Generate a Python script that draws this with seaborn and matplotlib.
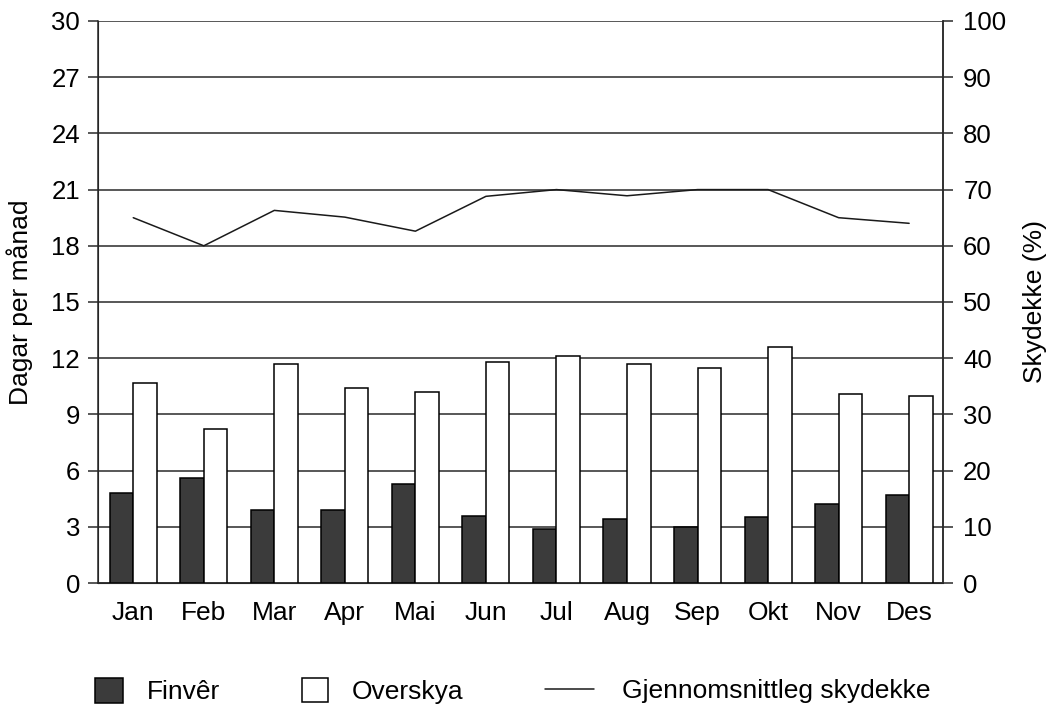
import numpy as np
import pandas as pd
import matplotlib
matplotlib.use("Agg")
import matplotlib.pyplot as plt
import seaborn as sns
from matplotlib.patches import Patch
from matplotlib.lines import Line2D

months = ["Jan", "Feb", "Mar", "Apr", "Mai", "Jun", "Jul", "Aug", "Sep", "Okt", "Nov", "Des"]
finver = [4.8, 5.6, 3.9, 3.9, 5.3, 3.6, 2.9, 3.4, 3.0, 3.5, 4.2, 4.7]
overskya = [10.7, 8.2, 11.7, 10.4, 10.2, 11.8, 12.1, 11.7, 11.5, 12.6, 10.1, 10.0]
skydekke = [65.0, 60.0, 66.3, 65.1, 62.6, 68.8, 70.0, 68.9, 70.0, 70.0, 65.0, 64.0]
left_ticks = [0, 3, 6, 9, 12, 15, 18, 21, 24, 27, 30]
right_ticks = [0, 10, 20, 30, 40, 50, 60, 70, 80, 90, 100]

sns.set_style("white")
plt.rcParams["font.family"] = ["Liberation Sans", "DejaVu Sans"]
plt.rcParams["text.color"] = "black"
plt.rcParams["axes.labelcolor"] = "black"
plt.rcParams["xtick.color"] = "black"
plt.rcParams["ytick.color"] = "black"

df = pd.DataFrame({
    "Månad": months * 2,
    "Dagar": finver + overskya,
    "Type": ["Finvêr"] * 12 + ["Overskya"] * 12,
})

DARK = "#3b3b3b"
LW = 1.1

fig = plt.figure(figsize=(10.48, 7.09), dpi=100)
ax = fig.add_axes([0.0935, 0.1777, 0.8063, 0.7927])

sns.barplot(data=df, x="Månad", y="Dagar", hue="Type", order=months,
            hue_order=["Finvêr", "Overskya"],
            palette={"Finvêr": DARK, "Overskya": "white"},
            width=0.667, gap=0, edgecolor="black", linewidth=LW,
            legend=False, ax=ax, zorder=3)

ax.set_ylim(0, 30)
ax.set_yticks(left_ticks)
ax.set_yticklabels([str(t) for t in left_ticks])
ax.set_axisbelow(True)
ax.yaxis.grid(True, color="#2a2a2a", linewidth=LW, zorder=0)
ax.xaxis.grid(False)
ax.tick_params(axis="y", direction="out", length=7.5, width=LW, color="#2a2a2a",
               labelsize=18.5, pad=5.5, left=True)
ax.tick_params(axis="x", length=0, labelsize=19, pad=13)
ax.set_xlabel("")
ax.set_ylabel("Dagar per månad", fontsize=19)
ax.yaxis.set_label_coords(-0.077, 0.5)
for s in ["left", "right", "bottom"]:
    ax.spines[s].set_visible(True)
    ax.spines[s].set_color("#2a2a2a")
    ax.spines[s].set_linewidth(LW)
ax.spines["top"].set_visible(False)

ax2 = ax.twinx()
sns.lineplot(x=np.arange(len(months)), y=skydekke, ax=ax2, color="#1a1a1a",
             linewidth=1.1, zorder=5)
ax2.set_ylim(0, 100)
ax2.set_yticks(right_ticks)
ax2.set_yticklabels([str(t) for t in right_ticks])
ax2.tick_params(axis="y", direction="out", length=7.5, width=LW, color="#2a2a2a",
                labelsize=18.5, pad=7, right=True)
ax2.set_ylabel("Skydekke (%)", fontsize=19)
ax2.yaxis.set_label_coords(1.095, 0.5)
ax2.spines["top"].set_visible(False)
ax2.spines["right"].set_color("#2a2a2a")
ax2.spines["right"].set_linewidth(LW)
ax2.grid(False)

ax.set_xlim(-0.5, 11.48)
ax2.set_xlim(-0.5, 11.48)

common = dict(frameon=False, fontsize=19, borderpad=0, borderaxespad=0,
              loc="center left")
fig.legend(handles=[Patch(facecolor=DARK, edgecolor="black", linewidth=LW)],
           labels=["Finvêr"], bbox_to_anchor=(95 / 1048, 0.025),
           handlelength=1.06, handleheight=1.06, handletextpad=0.9, **common)
fig.legend(handles=[Patch(facecolor="white", edgecolor="black", linewidth=LW)],
           labels=["Overskya"], bbox_to_anchor=(302 / 1048, 0.025),
           handlelength=1.0, handleheight=1.0, handletextpad=0.9, **common)
fig.legend(handles=[Line2D([], [], color="#1a1a1a", linewidth=1.1)],
           labels=["Gjennomsnittleg skydekke"], bbox_to_anchor=(545 / 1048, 0.025),
           handlelength=1.86, handletextpad=1.06, **common)

fig.savefig("out.png", dpi=100, facecolor="white")
